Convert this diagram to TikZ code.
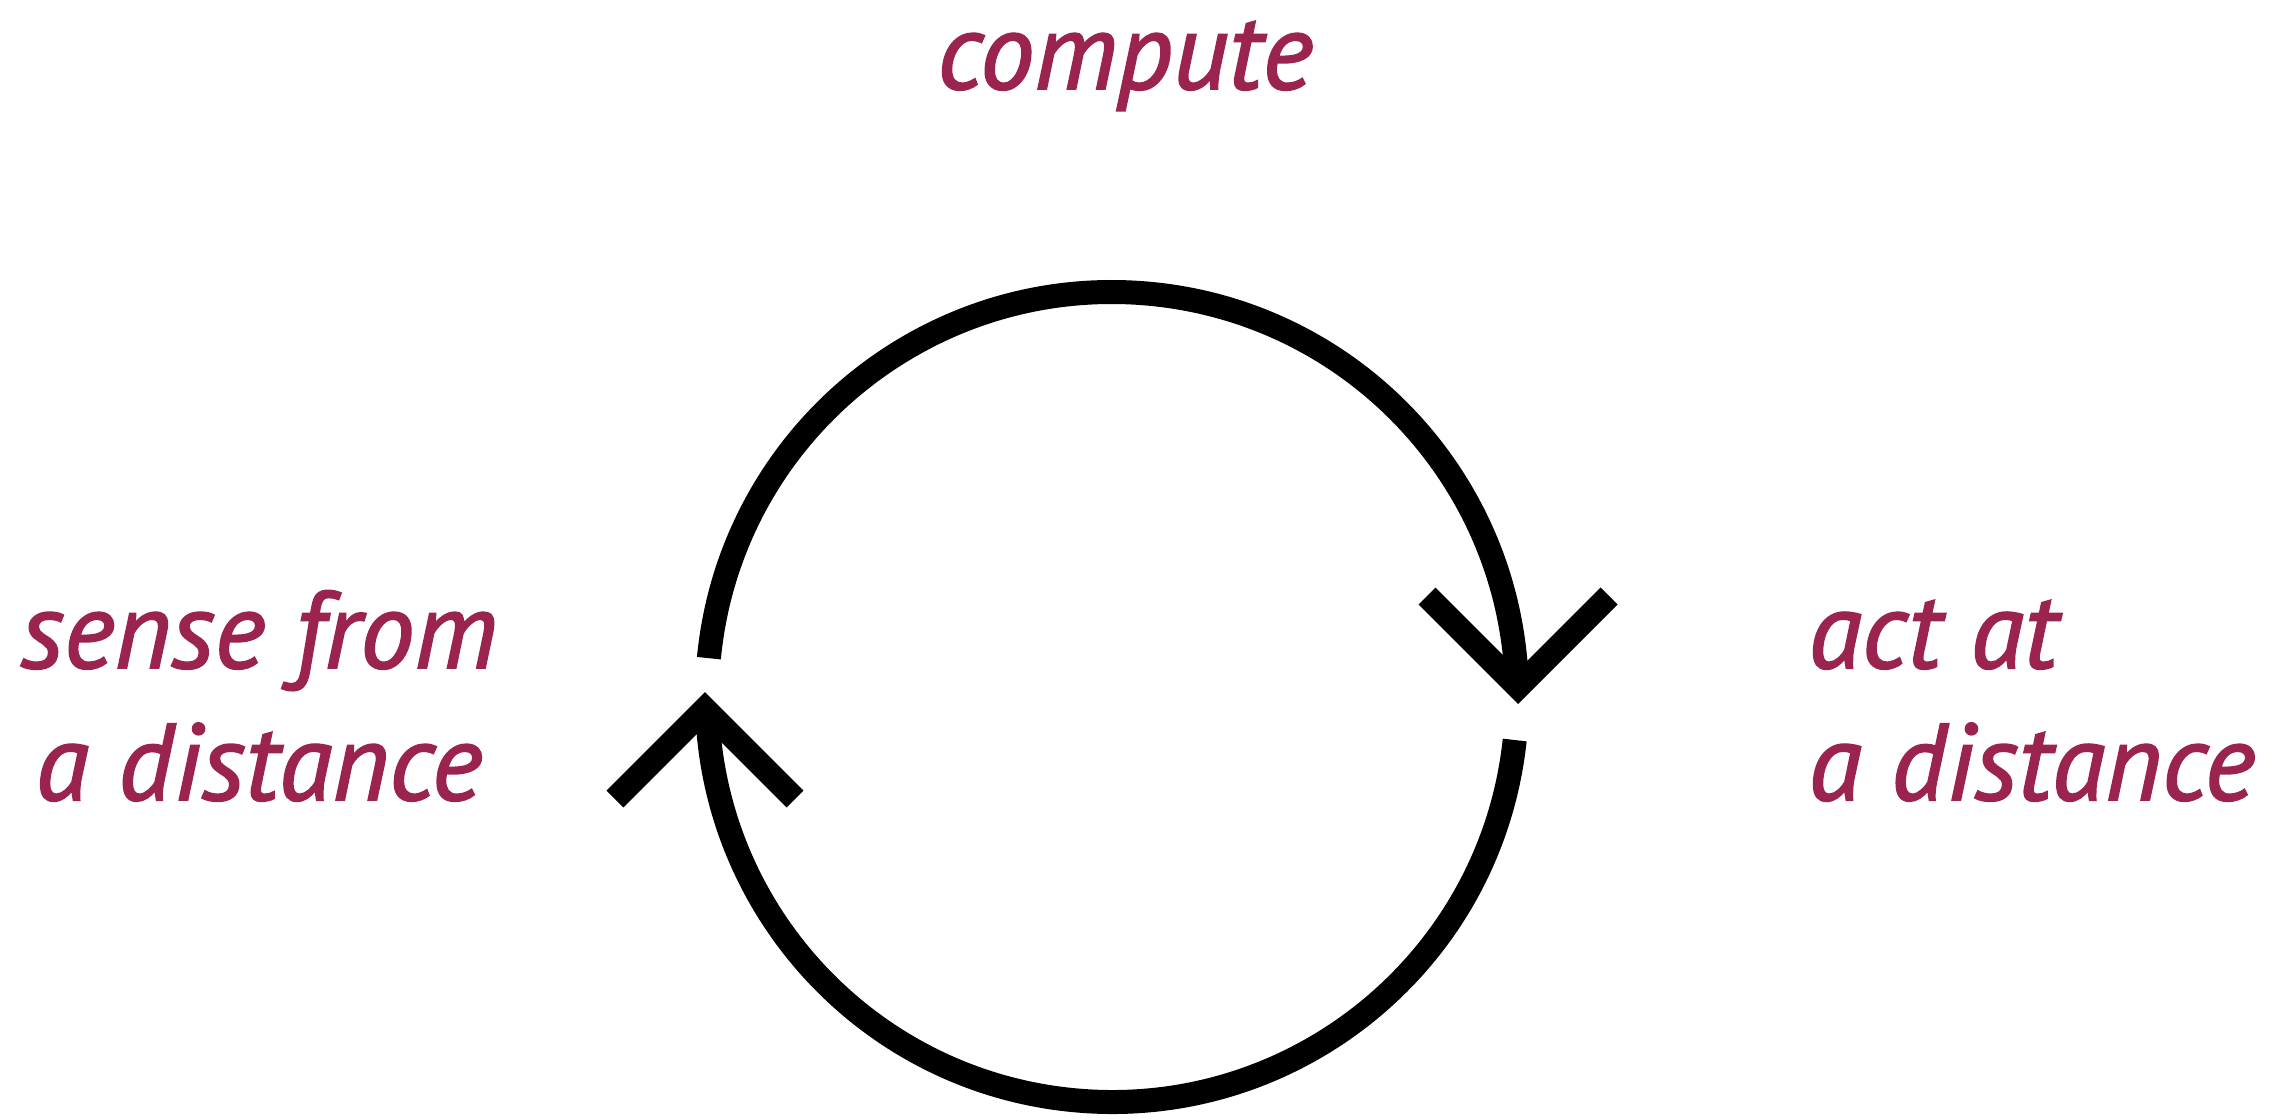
\documentclass[tikz,border=0pt]{standalone}
\usepackage{fontspec}
\setmainfont{PT Sans}[ItalicFeatures={FakeBold=1.6}]
\definecolor{labelred}{HTML}{9B234F}
\begin{document}
\begin{tikzpicture}
\tikzset{
  loopline/.style={line width=0.24cm, line cap=butt, line join=miter, black},
  lbl/.style={inner sep=0pt, text=labelred, font=\fontsize{31}{37}\selectfont\itshape}
}
\useasboundingbox (0,0) rectangle (22.75,11.19);
\coordinate (c) at (11.12,4.22);
% upper arc
\draw[loopline] ([shift={(174.5:4.05)}]c) arc[start angle=174.5, end angle=1.5, radius=4.05];
% lower arc
\draw[loopline] ([shift={(-6.1:4.05)}]c) arc[start angle=-6.1, end angle=-178.2, radius=4.05];
% chevrons
\coordinate (rt) at (15.18,4.32);
\coordinate (rl) at (14.27,5.23);
\coordinate (rr) at (16.09,5.23);
\draw[loopline] (rl) -- (rt) -- (rr);
\coordinate (lt) at (7.05,4.10);
\coordinate (ll) at (6.15,3.20);
\coordinate (lr) at (7.95,3.20);
\draw[loopline] (ll) -- (lt) -- (lr);
% labels
\node[lbl, anchor=base] (compute) at (11.25,10.30) {compute};
\node[lbl, anchor=base] (senseA) at (2.59,4.51) {sense from};
\node[lbl, anchor=base] (senseB) at (2.59,3.19) {a distance};
\node[lbl, anchor=base west] (actA) at (18.08,4.51) {act at};
\node[lbl, anchor=base west] (actB) at (18.08,3.19) {a distance};
\end{tikzpicture}
\end{document}
